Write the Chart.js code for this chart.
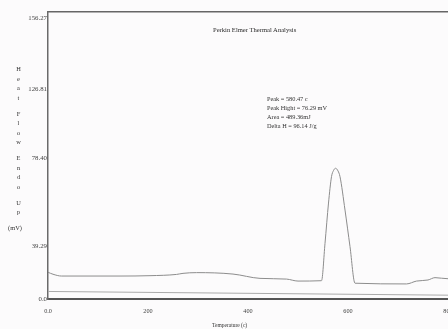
<!DOCTYPE html>
<html>
<head>
<meta charset="utf-8">
<script src="https://cdn.jsdelivr.net/npm/chart.js@4.4.1/dist/chart.umd.min.js"></script>
<style>
  body { margin: 0; background: #fcfbfc; }
  #wrap { position: relative; width: 448px; height: 329px; overflow: hidden; background: #fcfbfc; }
  #dsc { position: absolute; left: 0; top: 0; }
  .txt { position: absolute; font-family: 'Liberation Serif', 'Times New Roman', serif; color: #333; white-space: nowrap; }
  #title { left: 213px; top: 26px; font-size: 6.6px; line-height: 8px; color: #2a2a2a; }
  #note { left: 267px; top: 94px; font-size: 6.3px; line-height: 9px; }
  #xtitle { left: 212px; top: 321px; font-size: 5.5px; line-height: 8px; }
  .ylet { position: absolute; font-family: 'Liberation Serif', 'Times New Roman', serif; font-size: 6.4px; line-height: 8px; color: #333; transform: translate(-50%, -50%); }
</style>
</head>
<body>
<div id="wrap">
  <canvas id="dsc" width="480" height="329"></canvas>
  <div class="txt" id="title">Perkin Elmer Thermal Analysis</div>
  <div class="txt" id="note">Peak = 580.47 c<br>Peak Hight = 76.29 mV<br>Area = 489.36mJ<br>Delta H = 96.14 J/g</div>
  <div class="txt" id="xtitle">Temperature (c)</div>
</div>
<script>
// ── data ─────────────────────────────────────────────────────────────────
const TEMP = [0, 10, 27, 144, 204, 257, 270, 297, 370, 424, 477, 500, 547,
  554, 561, 567, 571, 575, 580, 584, 594, 604, 614, 717, 737, 760, 774, 800, 850];
const HEAT = [14.9, 13.8, 12.8, 12.8, 13.0, 13.7, 14.3, 14.7, 13.9, 11.5, 11.1, 10.0, 10.2,
  31.0, 53.5, 68.2, 71.6, 72.9, 71.4, 68.2, 49.6, 29.2, 8.8, 8.4, 10.0, 10.6, 11.9, 11.3, 11.3];

// lower reference trace
const BASE_T = [0, 850];
const BASE_V = [4.2, 2.0];

// axis ticks (the printed labels sit where the scan puts them)
const X_TICKS = [0, 200, 400, 600, 800];
const X_TICK_LABELS = ['0.0', '200', '400', '600', '800'];
const Y_TICKS = [0, 29.5, 78.4, 117.1, 156.27];
const Y_TICK_LABELS = ['0.0', '39.29', '78.40', '126.81', '156.27'];

const Y_TITLE = ['Heat', 'Flow', 'Endo', 'Up', '(mV)'];

// ── stacked y-axis title ────────────────────────────────────────────────
(function buildYTitle() {
  const wrap = document.getElementById('wrap');
  let y = 69;
  Y_TITLE.forEach((word) => {
    const parts = word.startsWith('(') ? [word] : word.split('');
    parts.forEach((ch) => {
      const s = document.createElement('span');
      s.className = 'ylet';
      s.textContent = ch;
      s.style.left = (word.startsWith('(') ? 15 : 18.5) + 'px';
      s.style.top = y + 'px';
      wrap.appendChild(s);
      y += 9.5;
    });
    y += 6.5;
  });
})();

// ── chart ───────────────────────────────────────────────────────────────
const SERIF = "'Liberation Serif', 'Times New Roman', serif";
const pts = (xs, ys) => xs.map((x, i) => ({ x, y: ys[i] }));

new Chart(document.getElementById('dsc'), {
  type: 'line',
  data: {
    datasets: [
      {
        data: pts(TEMP, HEAT),
        borderColor: '#8c8c8c',
        borderWidth: 1,
        pointRadius: 0,
        cubicInterpolationMode: 'monotone',
        fill: false,
      },
      {
        data: pts(BASE_T, BASE_V),
        borderColor: '#aaaaaa',
        borderWidth: 1,
        pointRadius: 0,
        fill: false,
      },
    ],
  },
  options: {
    responsive: false,
    animation: false,
    events: [],
    layout: { padding: { top: 12, right: 7, left: 0, bottom: 0 } },
    plugins: { legend: { display: false }, tooltip: { enabled: false } },
    scales: {
      x: {
        type: 'linear',
        position: 'bottom',
        min: 0,
        max: 850,
        grid: { display: false, drawTicks: false },
        border: { display: true, color: '#555', width: 2 },
        afterBuildTicks: (s) => { s.ticks = X_TICKS.map((v) => ({ value: v })); },
        afterFit: (s) => { s.height = 30; },
        ticks: {
          autoSkip: false,
          maxRotation: 0,
          padding: 9,
          color: '#444',
          font: { family: SERIF, size: 6.2 },
          callback: (v) => X_TICK_LABELS[X_TICKS.indexOf(v)],
        },
      },
      xTop: {
        type: 'linear',
        position: 'top',
        min: 0,
        max: 850,
        grid: { display: false, drawTicks: false },
        border: { display: true, color: '#666', width: 1.5 },
        ticks: { display: false },
        afterFit: (s) => { s.height = 0; },
      },
      y: {
        min: 0,
        max: 160,
        grid: { display: false, drawTicks: false },
        border: { display: true, color: '#6a6a6a', width: 1.5 },
        afterBuildTicks: (s) => { s.ticks = Y_TICKS.map((v) => ({ value: v })); },
        afterFit: (s) => { s.width = 48; },
        ticks: {
          autoSkip: false,
          padding: 1,
          color: '#444',
          font: { family: SERIF, size: 6.8 },
          callback: (v) => Y_TICK_LABELS[Y_TICKS.indexOf(v)],
        },
      },
    },
  },
});
</script>
</body>
</html>
